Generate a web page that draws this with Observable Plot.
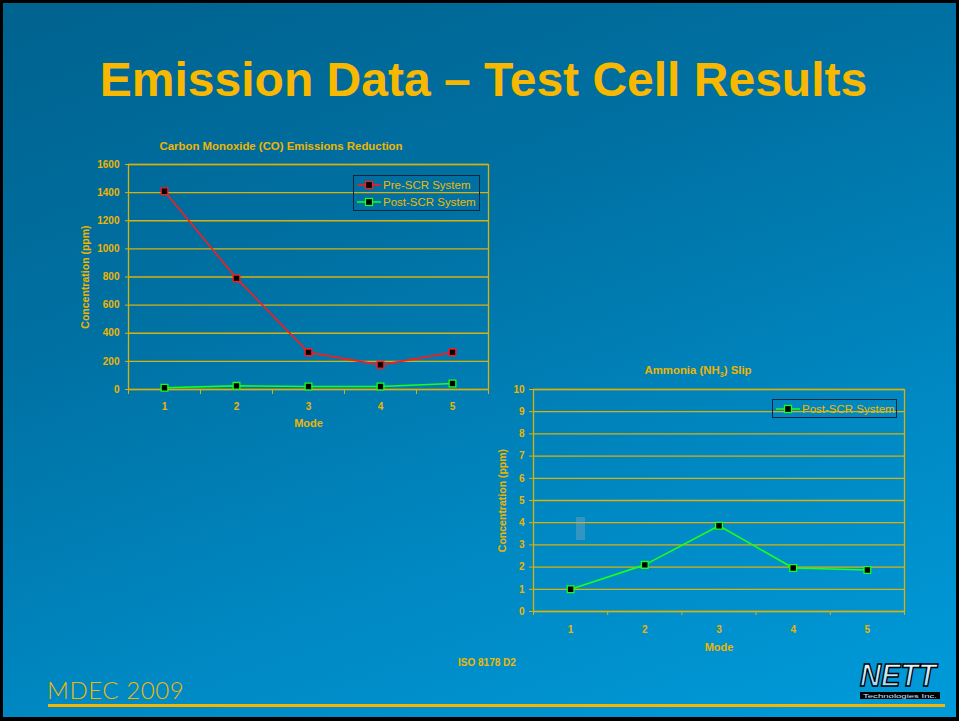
<!DOCTYPE html>
<html><head><meta charset="utf-8">
<script src="https://cdn.jsdelivr.net/npm/d3@7"></script>
<script src="https://cdn.jsdelivr.net/npm/@observablehq/plot@0.6"></script>
<style>
html,body{margin:0;padding:0;}
body{width:959px;height:721px;overflow:hidden;position:relative;background:#000;font-family:"Liberation Sans",Arial,sans-serif;}
#slide{position:absolute;left:3px;top:3px;width:953px;height:714px;background:linear-gradient(160deg,#00628f 0%,#0071a3 35%,#0088c2 68%,#009bdb 100%);}
.abs{position:absolute;}
#title{left:4px;width:959px;top:52px;text-align:center;font-weight:bold;font-size:48px;color:#f9b800;line-height:56px;}
.ctitle{font-weight:bold;font-size:11.4px;color:#eeb500;transform:translate(-50%,-50%);white-space:nowrap;}
.legend{border:1.5px solid #0b2638;box-sizing:border-box;color:#f0b800;font-size:11.5px;}
.legend .row{display:flex;align-items:center;height:17px;padding-left:3px;}
.legend svg{margin-right:2px;}
#mdec{left:47px;top:675px;font-family:Lato,"Open Sans",sans-serif;font-weight:300;font-size:24px;color:#f3b800;letter-spacing:0.6px;}
#iso{left:458px;top:657px;font-weight:bold;font-size:10px;color:#f0b800;}
#rule{left:48px;top:704px;width:897px;height:3px;background:#f7b500;}
#smudge{left:576px;top:517px;width:9px;height:23px;background:rgba(170,180,190,0.3);}
</style></head>
<body>
<div id="slide"></div>
<div id="title" class="abs">Emission Data – Test Cell Results</div>
<div class="abs ctitle" style="left:281px;top:146px;">Carbon Monoxide (CO) Emissions Reduction</div>
<div class="abs ctitle" style="left:698px;top:371px;">Ammonia (NH<sub style="font-size:7px;">3</sub>) Slip</div>
<div id="c1" class="abs" style="left:60px;top:130px;"></div>
<div id="c2" class="abs" style="left:480px;top:355px;"></div>
<div id="smudge" class="abs"></div>
<div id="leg1" class="abs legend" style="left:353px;top:175px;width:127px;height:36px;"></div>
<div id="leg2" class="abs legend" style="left:772px;top:399px;width:125px;height:19px;"></div>
<div id="mdec" class="abs">MDEC 2009</div>
<div id="iso" class="abs">ISO 8178 D2</div>
<div id="rule" class="abs"></div>
<svg class="abs" style="left:854px;top:656px;" width="90" height="46">
  <defs><linearGradient id="lg" x1="0" y1="0" x2="0" y2="1"><stop offset="0" stop-color="#ffffff"/><stop offset="1" stop-color="#7fd0ff"/></linearGradient></defs>
  <text x="44" y="30" text-anchor="middle" font-family="Liberation Sans" font-weight="bold" font-style="italic" font-size="31" fill="url(#lg)" stroke="#000" stroke-width="1.4" textLength="76" lengthAdjust="spacingAndGlyphs">NETT</text>
  <rect x="6" y="36" width="80" height="7" fill="#000"/>
  <text x="46" y="42" text-anchor="middle" font-family="Liberation Sans" font-size="5.5" fill="#cfe8ff" textLength="74" lengthAdjust="spacingAndGlyphs">Technologies Inc.</text>
</svg>
<script>
// ---- data ----
const modes = [1, 2, 3, 4, 5];
const coPreSCR = [1410, 790, 264, 175, 264];
const coPostSCR = [12, 26, 21, 21, 43];
const nh3PostSCR = [1.0, 2.1, 3.86, 1.96, 1.87];
const coYTicks = [0, 200, 400, 600, 800, 1000, 1200, 1400, 1600];
const nh3YTicks = [0, 1, 2, 3, 4, 5, 6, 7, 8, 9, 10];
const seriesNames = ["Pre-SCR System", "Post-SCR System"];
const seriesColors = ["#ff1a1a", "#1aff1a"];

const gold = "#eeb500";
const gridCol = "#d9b10c";
const boundaries = [0.5, 1.5, 2.5, 3.5, 4.5, 5.5];

function makeChart({width, height, mL, mR, mT, mB, yDomain, yTicks, series, yLabelDx, modeDy, yTickSize, yPad, xPad, xTick}) {
  const marks = [
    Plot.ruleY(yTicks, {stroke: gridCol, strokeWidth: 1.3}),
    Plot.frame({stroke: gridCol, strokeWidth: 1.3}),
    Plot.axisY({ticks: yTicks, tickSize: yTickSize, tickPadding: yPad, stroke: gridCol, label: null, tickFormat: d => String(d)}),
    Plot.axisX({ticks: boundaries, tickSize: xTick, stroke: gridCol, tickFormat: () => "", label: null}),
    Plot.axisX({ticks: modes, tickSize: 0, tickPadding: xPad, label: null, tickFormat: d => String(d)}),
    Plot.text(["Concentration (ppm)"], {frameAnchor: "left", textAnchor: "middle", lineAnchor: "middle", rotate: -90, dx: yLabelDx, text: d => d, fontSize: 10.5, fontWeight: "bold", fill: gold}),
    Plot.text(["Mode"], {frameAnchor: "bottom", lineAnchor: "middle", dy: modeDy, text: d => d, fontSize: 11, fontWeight: "bold", fill: gold})
  ];
  for (const s of series) {
    const data = modes.map((m, i) => ({mode: m, value: s.values[i]}));
    marks.push(Plot.line(data, {x: "mode", y: "value", stroke: s.color, strokeWidth: 1.6}));
    marks.push(Plot.dot(data, {x: "mode", y: "value", symbol: "square", r: 3.8, fill: "#000", stroke: s.color, strokeWidth: 1.3}));
  }
  return Plot.plot({
    width, height, marginLeft: mL, marginRight: mR, marginTop: mT, marginBottom: mB,
    style: {background: "transparent", color: gold, fontFamily: "Liberation Sans, Arial, sans-serif", fontSize: "10px", fontWeight: "bold", overflow: "visible"},
    x: {type: "linear", domain: [0.5, 5.5]},
    y: {type: "linear", domain: yDomain},
    marks
  });
}

document.getElementById("c1").appendChild(makeChart({
  width: 440, height: 310, mL: 68, mR: 12, mT: 34, mB: 51,
  yDomain: [0, 1600], yTicks: coYTicks,
  series: [{values: coPreSCR, color: seriesColors[0]}, {values: coPostSCR, color: seriesColors[1]}],
  yLabelDx: -43, modeDy: 34, yTickSize: 3, yPad: 6, xPad: 13, xTick: 5
}));
document.getElementById("c2").appendChild(makeChart({
  width: 440, height: 305, mL: 53, mR: 16, mT: 34, mB: 49,
  yDomain: [0, 10], yTicks: nh3YTicks,
  series: [{values: nh3PostSCR, color: seriesColors[1]}],
  yLabelDx: -31, modeDy: 36, yTickSize: 4, yPad: 5, xPad: 14, xTick: 4
}));

function legendRow(name, color) {
  return `<div class="row"><svg width="24" height="10"><line x1="0" y1="5" x2="24" y2="5" stroke="${color}" stroke-width="1.5"/><rect x="8.5" y="1.5" width="7" height="7" fill="#000" stroke="${color}" stroke-width="1.3"/></svg><span>${name}</span></div>`;
}
document.getElementById("leg1").innerHTML = legendRow(seriesNames[0], seriesColors[0]) + legendRow(seriesNames[1], seriesColors[1]);
document.getElementById("leg2").innerHTML = legendRow(seriesNames[1], seriesColors[1]);
</script>
</body></html>
